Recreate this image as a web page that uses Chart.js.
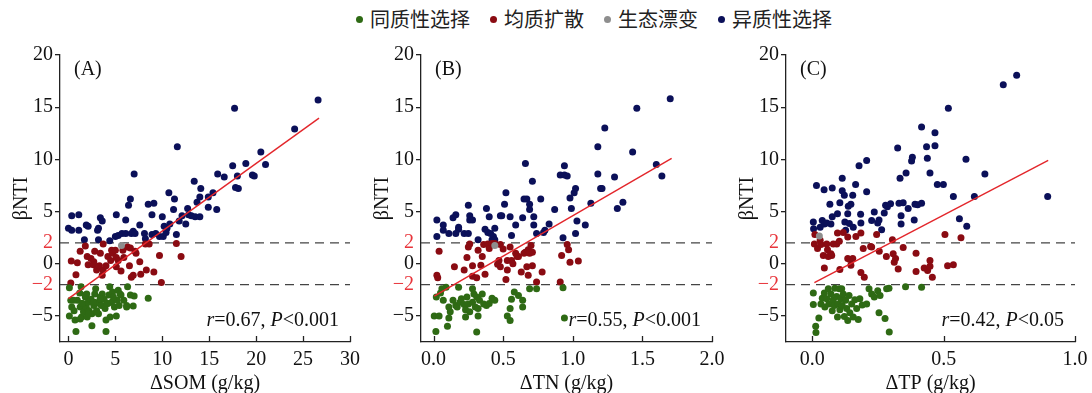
<!DOCTYPE html>
<html>
<head>
<meta charset="utf-8">
<script src="https://cdn.jsdelivr.net/npm/chart.js@4.4.1/dist/chart.umd.min.js"></script>
<style>
html, body { margin: 0; padding: 0; background: #fff; width: 1092px; height: 393px; overflow: hidden; position: relative; }
.panel { position: absolute; top: 0; height: 396px; }
#legend { position: absolute; top: 7px; left: 356px; display: flex; font-family: "Noto Sans CJK SC", sans-serif; font-size: 20px; line-height: 24px; color: #222; }
#legend .item { display: flex; align-items: center; margin-right: 20px; }
#legend .dot { width: 7px; height: 7px; border-radius: 50%; margin-right: 7px; }
</style>
</head>
<body>
<div id="legend"></div>
<div class="panel" style="left:0;width:364px"><canvas id="chartA"></canvas></div>
<div class="panel" style="left:361px;width:364px"><canvas id="chartB"></canvas></div>
<div class="panel" style="left:726px;width:366px"><canvas id="chartC"></canvas></div>
<script>
// group names + colours
const groups = ['同质性选择', '均质扩散', '生态漂变', '异质性选择'];
const groupColors = ['#2e6a14', '#8a0b12', '#8e8e8e', '#0b1059'];

// y axis ticks shared by all panels
const yTicks = [-5, -2, 0, 2, 5, 10, 15, 20];

// (A) ΔSOM
const somGreen = [[0.1,-2.3],[0.25,-3.5],[0.1,-5.0],[0.35,-4.15],[0.6,-4.5],[0.7,-5.4],[0.8,-6.5],[0.95,-3.5],[1.2,-2.8],[1.25,-4.15],[1.35,-2.2],[1.4,-5.1],[1.5,-3.8],[1.6,-4.6],[1.8,-3.2],[1.9,-4.15],[1.95,-2.9],[2.0,-5.1],[2.1,-3.7],[2.2,-4.5],[2.4,-3.4],[2.5,-4.8],[2.5,-5.95],[2.7,-4.0],[2.8,-2.9],[2.8,-3.7],[2.9,-2.4],[3.0,-4.5],[3.2,-4.8],[3.3,-3.8],[3.4,-3.2],[3.5,-4.0],[3.6,-2.9],[3.8,-3.4],[3.9,-4.3],[4.0,-5.4],[4.0,-6.5],[4.2,-3.8],[4.3,-3.0],[4.4,-2.2],[4.6,-3.7],[4.7,-2.7],[4.9,-4.15],[5.1,-5.0],[5.2,-3.5],[5.3,-2.55],[5.4,-4.0],[5.6,-3.0],[5.9,-3.5],[6.2,-4.15],[6.3,-2.2],[6.6,-3.0],[6.9,-4.05],[7.0,-3.1],[8.5,-3.3],
  [0.53,-3.5],[1.43,-3.8],[1.78,-3.0],[2.66,-3.7],[3.37,-3.35],[4.08,-3.8],[4.79,-3.2],[5.5,-2.9],[6.2,-4.0],[2.13,-4.8],[3.0,-4.6],[4.44,-5.1],[1.25,-5.3]];
const somRed = [[0.25,-1.85],[0.3,0.25],[0.8,-1.05],[0.95,0.1],[1.25,1.2],[1.8,1.7],[2.0,0.7],[2.1,-0.1],[2.4,0.5],[2.7,0.2],[2.66,-0.1],[2.8,1.2],[3.0,-0.6],[3.3,-0.2],[3.4,1.0],[3.7,1.9],[3.6,-1.1],[3.7,-0.6],[4.0,-0.2],[4.2,0.7],[4.6,1.3],[4.5,0.3],[4.7,1.0],[5.0,1.3],[5.1,0.6],[5.1,-0.3],[5.3,0.3],[5.6,-0.7],[5.8,1.3],[5.9,0.6],[6.3,1.6],[6.5,-0.2],[6.6,1.5],[6.7,-1.3],[6.9,-1.1],[7.1,1.2],[7.2,1.0],[7.6,0.2],[7.7,-1.0],[8.2,1.9],[8.3,-0.6],[8.6,1.9],[9.1,-0.8],[9.7,0.8],[9.9,-1.8],[11.5,1.95],[12.0,0.7]];
const somGray = [[5.65,1.75]];
const somBlue = [[0,3.4],[0.35,4.6],[0.35,3.2],[1.1,4.7],[1.1,3.2],[1.7,2.3],[1.9,3.7],[2.1,3.6],[3.1,3.2],[3.2,3.4],[3.2,2.3],[3.4,4.4],[3.6,4.1],[4.4,2.2],[5.0,2.6],[5.1,4.7],[5.3,2.7],[5.7,2.9],[6.1,4.2],[6.1,2.9],[6.4,5.6],[6.6,6.2],[6.7,2.9],[6.9,3.1],[7.0,8.6],[7.1,2.9],[7.6,3.7],[8.1,2.9],[8.2,2.4],[8.5,5.7],[8.9,4.7],[9.1,5.8],[8.9,2.8],[9.3,2.9],[9.7,2.6],[10.0,4.5],[10.1,2.6],[10.2,3.6],[10.4,3.0],[10.5,3.4],[10.7,6.8],[10.8,3.8],[11.2,5.2],[11.3,6.2],[11.5,2.8],[11.6,11.2],[11.8,4.1],[12.1,4.6],[12.5,3.8],[12.7,5.3],[12.8,4.7],[13.1,4.6],[13.4,7.9],[13.5,4.5],[13.7,5.9],[14.0,4.5],[14.0,6.4],[14.1,7.2],[14.9,5.4],[14.9,6.4],[15.4,6.8],[15.8,5.2],[15.9,8.6],[16.6,8.3],[17.5,9.4],[17.7,14.9],[17.8,7.3],[18.0,8.4],[18.1,7.2],[18.9,9.6],[19.6,8.5],[19.8,8.4],[20.5,10.7],[21.0,9.5],[24.1,12.9],[26.6,15.7]];
const somFit = [[0,-3.35],[26.7,13.95]];
const somTicks = [0, 5, 10, 15, 20, 25, 30];

// (B) ΔTN
const tnGreen = [[0.005,-5.0],[0.017,-6.5],[0.02,-3.2],[0.04,-5.0],[0.05,-2.8],[0.06,-2.4],[0.07,-3.5],[0.09,-2.25],[0.1,-6.0],[0.11,-5.2],[0.11,-4.15],[0.12,-4.6],[0.14,-3.5],[0.16,-4.0],[0.17,-4.15],[0.18,-2.25],[0.19,-3.7],[0.2,-3.35],[0.22,-3.9],[0.23,-5.1],[0.23,-4.4],[0.24,-3.2],[0.25,-3.85],[0.26,-4.6],[0.28,-3.7],[0.28,-2.4],[0.29,-2.9],[0.3,-4.15],[0.31,-3.2],[0.31,-6.55],[0.32,-5.0],[0.32,-4.3],[0.33,-3.5],[0.35,-2.9],[0.36,-3.85],[0.38,-4.0],[0.4,-3.8],[0.42,-3.3],[0.44,-3.5],[0.53,-5.0],[0.55,-5.45],[0.55,-4.3],[0.56,-3.4],[0.58,-2.7],[0.61,-3.05],[0.64,-3.5],[0.64,-4.15],[0.69,-2.4],[0.74,-2.4],[0.93,-2.3],[0.94,-5.2]];
const tnRed = [[0.024,-1.1],[0.03,-1.35],[0.04,1.2],[0.15,-0.3],[0.22,-0.6],[0.24,0.6],[0.25,1.6],[0.26,1.9],[0.28,-0.2],[0.28,-1.2],[0.31,-1.35],[0.32,1.3],[0.34,-0.15],[0.35,0.7],[0.36,1.85],[0.37,-1.0],[0.39,1.9],[0.4,1.45],[0.42,1.95],[0.44,1.95],[0.46,-0.05],[0.47,0.3],[0.48,1.85],[0.48,-0.3],[0.5,1.4],[0.52,-1.5],[0.53,-0.6],[0.53,0.3],[0.55,1.6],[0.56,0.3],[0.57,0.0],[0.59,1.0],[0.6,0.7],[0.61,0.7],[0.63,-0.8],[0.65,1.0],[0.66,1.1],[0.67,-0.3],[0.68,-1.1],[0.68,1.35],[0.69,1.0],[0.7,1.75],[0.71,-0.2],[0.71,1.1],[0.74,-1.75],[0.78,-0.8],[0.91,-1.75],[0.92,0.8],[0.96,1.85],[0.97,1.35],[0.98,0.15],[1.04,0.25]];
const tnGray = [[0.44,1.75]];
const tnBlue = [[0.024,4.2],[0.024,2.6],[0.07,3.7],[0.07,3.2],[0.11,2.9],[0.14,4.4],[0.16,4.7],[0.18,3.3],[0.18,3.5],[0.16,2.9],[0.22,2.9],[0.25,5.6],[0.25,2.9],[0.26,4.2],[0.26,4.6],[0.28,4.2],[0.32,2.3],[0.37,3.3],[0.38,5.3],[0.39,3.0],[0.4,4.5],[0.41,2.9],[0.42,2.3],[0.43,2.6],[0.44,3.4],[0.44,2.3],[0.48,4.6],[0.49,4.6],[0.51,5.7],[0.52,6.8],[0.55,4.5],[0.56,2.7],[0.59,3.7],[0.64,4.4],[0.65,6.2],[0.66,9.6],[0.67,6.2],[0.69,5.2],[0.69,5.7],[0.71,7.9],[0.72,4.5],[0.72,3.7],[0.74,2.9],[0.77,6.2],[0.79,3.0],[0.8,3.2],[0.83,3.8],[0.87,5.2],[0.93,2.5],[0.91,8.5],[0.94,9.4],[0.94,8.5],[0.96,8.4],[0.98,6.3],[0.99,5.3],[1.01,6.8],[1.02,7.2],[1.02,2.9],[1.03,4.1],[1.09,3.7],[1.13,5.8],[1.18,11.2],[1.18,8.6],[1.2,7.2],[1.21,7.2],[1.23,13.0],[1.3,8.3],[1.32,5.3],[1.36,5.9],[1.43,10.7],[1.46,14.9],[1.6,9.5],[1.64,8.4],[1.7,15.8]];
const tnFit = [[0.005,-3.1],[1.71,10.1]];
const tnTicks = [0, 0.5, 1, 1.5, 2];

// (C) ΔTP
const tpGreen = [[0.004,-2.8],[0.004,-3.9],[0.013,-6.0],[0.014,-6.6],[0.025,-5.2],[0.033,-3.85],[0.038,-3.3],[0.046,-2.8],[0.048,-4.15],[0.055,-3.35],[0.061,-2.4],[0.063,-3.85],[0.071,-2.9],[0.076,-4.5],[0.08,-3.45],[0.084,-4.0],[0.086,-2.35],[0.093,-3.15],[0.096,-5.1],[0.099,-3.85],[0.103,-2.4],[0.105,-4.4],[0.109,-3.35],[0.112,-2.4],[0.114,-4.0],[0.118,-2.9],[0.122,-5.05],[0.127,-3.5],[0.131,-4.3],[0.135,-5.45],[0.14,-3.05],[0.143,-4.7],[0.15,-3.85],[0.156,-5.1],[0.162,-3.45],[0.169,-4.3],[0.175,-5.35],[0.181,-3.35],[0.19,-3.95],[0.207,-3.85],[0.216,-2.4],[0.226,-2.9],[0.236,-3.2],[0.249,-2.6],[0.254,-4.7],[0.258,-3.05],[0.277,-5.25],[0.283,-2.4],[0.292,-2.35],[0.293,-6.55],[0.355,-2.2],[0.416,-2.25]];
const tpRed = [[0.008,1.9],[0.01,2.8],[0.02,1.45],[0.03,2.25],[0.033,1.85],[0.042,0.8],[0.046,-0.4],[0.055,1.9],[0.058,1.35],[0.061,0.7],[0.071,0.95],[0.074,0.8],[0.08,1.9],[0.093,1.9],[0.096,2.95],[0.103,2.15],[0.105,-0.55],[0.118,3.0],[0.135,2.55],[0.135,0.5],[0.143,0.4],[0.147,-0.15],[0.154,0.5],[0.166,2.6],[0.185,2.95],[0.185,-0.85],[0.194,1.45],[0.198,-1.3],[0.222,1.65],[0.226,1.6],[0.245,2.8],[0.255,1.2],[0.282,0.7],[0.305,2.3],[0.308,0.95],[0.312,0.15],[0.317,0.5],[0.327,-0.5],[0.346,1.55],[0.395,1.0],[0.395,-0.75],[0.426,-0.4],[0.439,-0.65],[0.448,0.3],[0.448,-0.25],[0.457,-1.3],[0.505,2.8],[0.515,-0.2],[0.537,-0.1],[0.566,2.5]];
const tpGray = [[0.027,2.65]];
const tpBlue = [[0.004,4.0],[0.005,3.35],[0.016,7.5],[0.03,3.5],[0.038,4.15],[0.045,7.1],[0.046,3.8],[0.055,3.9],[0.067,5.7],[0.071,3.8],[0.076,7.25],[0.076,4.5],[0.096,4.8],[0.105,5.85],[0.114,8.2],[0.114,7.0],[0.122,6.55],[0.124,4.0],[0.127,3.2],[0.135,4.8],[0.137,5.5],[0.141,3.85],[0.147,5.7],[0.154,6.55],[0.156,3.5],[0.165,7.6],[0.178,9.4],[0.184,4.75],[0.185,3.9],[0.207,9.9],[0.207,6.9],[0.226,4.15],[0.236,4.95],[0.249,3.9],[0.254,4.2],[0.264,3.25],[0.274,4.85],[0.279,5.6],[0.286,5.45],[0.298,5.75],[0.325,11.1],[0.33,5.8],[0.334,8.2],[0.338,4.6],[0.338,3.8],[0.346,5.85],[0.357,8.7],[0.365,5.3],[0.378,9.85],[0.381,10.2],[0.388,4.2],[0.391,5.7],[0.401,5.65],[0.416,13.1],[0.416,5.8],[0.435,11.2],[0.438,10.1],[0.448,8.7],[0.467,12.55],[0.467,11.3],[0.476,7.6],[0.499,7.6],[0.518,14.9],[0.537,6.45],[0.56,4.3],[0.585,10.0],[0.588,3.6],[0.617,6.45],[0.657,8.6],[0.727,17.15],[0.778,18.05],[0.896,6.45]];
const tpFit = [[0.008,-1.8],[0.898,9.9]];
const tpTicks = [0, 0.5, 1];

const serif = '"Liberation Serif", "Times New Roman", serif';
const fs = 20;

// legend (html)
const legend = document.getElementById('legend');
groups.forEach((g, i) => {
    legend.innerHTML += '<div class="item"><span class="dot" style="background:' + groupColors[i] + '"></span>' + g + '</div>';
});

const toXY = arr => arr.map(p => ({ x: p[0], y: p[1] }));

// draws inward x ticks, panel tag and r / P note
const decorPlugin = {
    id: 'decor',
    afterDraw(chart, args, opts) {
        const { ctx, chartArea } = chart;
        const x = chart.scales.x;
        ctx.save();
        ctx.strokeStyle = '#222';
        ctx.lineWidth = 1.3;
        x.ticks.forEach(t => {
            const px = Math.round(x.getPixelForValue(t.value)) + 0.5;
            ctx.beginPath();
            ctx.moveTo(px, chartArea.bottom);
            ctx.lineTo(px, chartArea.bottom - 6);
            ctx.stroke();
        });
        ctx.fillStyle = '#111';
        ctx.textBaseline = 'middle';
        ctx.font = fs + 'px ' + serif;
        ctx.fillText(opts.tag, chartArea.left + 14, 70);

        const parts = [['r', true], ['=' + opts.r + ', ', false], ['P', true], [opts.p, false]];
        let total = 0;
        parts.forEach(p => { ctx.font = (p[1] ? 'italic ' : '') + fs + 'px ' + serif; total += ctx.measureText(p[0]).width; });
        let cx = chartArea.right - 11 - total;
        parts.forEach(p => {
            ctx.font = (p[1] ? 'italic ' : '') + fs + 'px ' + serif;
            ctx.fillText(p[0], cx, chartArea.bottom - 21);
            cx += ctx.measureText(p[0]).width;
        });
        ctx.restore();
    }
};

function makePanel(id, pts, fit, xMin, xMax, xTicks, digits, xTitle, tag, r, p, padRight) {
    const scatterSets = pts.map((arr, i) => ({
        label: groups[i],
        data: toXY(arr),
        backgroundColor: groupColors[i],
        borderWidth: 0,
        pointRadius: 3.5,
        pointHoverRadius: 3.5,
        order: i === 2 ? 0 : 1   // drift point on top
    }));
    const dash = (yv) => ({
        data: [{ x: xMin, y: yv }, { x: xMax, y: yv }],
        showLine: true, pointRadius: 0, borderColor: '#444', borderWidth: 1.3,
        borderDash: [9, 6], order: 2
    });
    new Chart(document.getElementById(id), {
        type: 'scatter',
        data: {
            datasets: [
                dash(2), dash(-2),
                ...scatterSets,
                { data: toXY(fit), showLine: true, pointRadius: 0, borderColor: '#e3262b', borderWidth: 1.4, order: 0 }
            ]
        },
        options: {
            responsive: true,
            maintainAspectRatio: false,
            animation: false,
            layout: { padding: { top: 55, right: padRight, bottom: 0, left: 0 } },
            plugins: { legend: { display: false }, tooltip: { enabled: false }, decor: { tag: tag, r: r, p: p } },
            scales: {
                x: {
                    type: 'linear', min: xMin, max: xMax,
                    afterBuildTicks: s => { s.ticks = xTicks.map(v => ({ value: v })); },
                    afterFit: s => { s.height = 54; },
                    grid: { display: false },
                    border: { display: true, color: '#222', width: 1.3 },
                    ticks: { color: '#111', padding: -2, font: { family: serif, size: fs }, callback: v => v.toFixed(digits) },
                    title: { display: true, text: xTitle, color: '#111', font: { family: serif, size: fs }, padding: 0 }
                },
                y: {
                    type: 'linear', min: -7.5, max: 20,
                    afterBuildTicks: s => { s.ticks = yTicks.map(v => ({ value: v })); },
                    afterFit: s => { s.width = 60; },
                    grid: {
                        drawOnChartArea: false, drawTicks: true, tickLength: 5, lineWidth: 1.3,
                        color: c => (c.tick && Math.abs(c.tick.value) === 2) ? 'rgba(0,0,0,0)' : '#222'
                    },
                    border: { display: true, color: '#222', width: 1.3 },
                    ticks: {
                        padding: 2,
                        font: { family: serif, size: fs },
                        color: c => Math.abs(c.tick.value) === 2 ? '#e8353b' : '#111',
                        callback: v => v < 0 ? '\u2212' + Math.abs(v) : String(v)
                    },
                    title: { display: true, text: 'βNTI', color: '#111', font: { family: serif, size: fs }, padding: { top: 10, bottom: 0 } }
                }
            }
        },
        plugins: [decorPlugin]
    });
}

makePanel('chartA', [somGreen, somRed, somGray, somBlue], somFit, -0.9, 30, somTicks, 0, 'ΔSOM (g/kg)', '(A)', '0.67', '<0.001', 14);
makePanel('chartB', [tnGreen, tnRed, tnGray, tnBlue], tnFit, -0.09, 2, tnTicks, 1, 'ΔTN (g/kg)', '(B)', '0.55', '<0.001', 13);
makePanel('chartC', [tpGreen, tpRed, tpGray, tpBlue], tpFit, -0.1, 1, tpTicks, 1, 'ΔTP (g/kg)', '(C)', '0.42', '<0.05', 17);
</script>
</body>
</html>
